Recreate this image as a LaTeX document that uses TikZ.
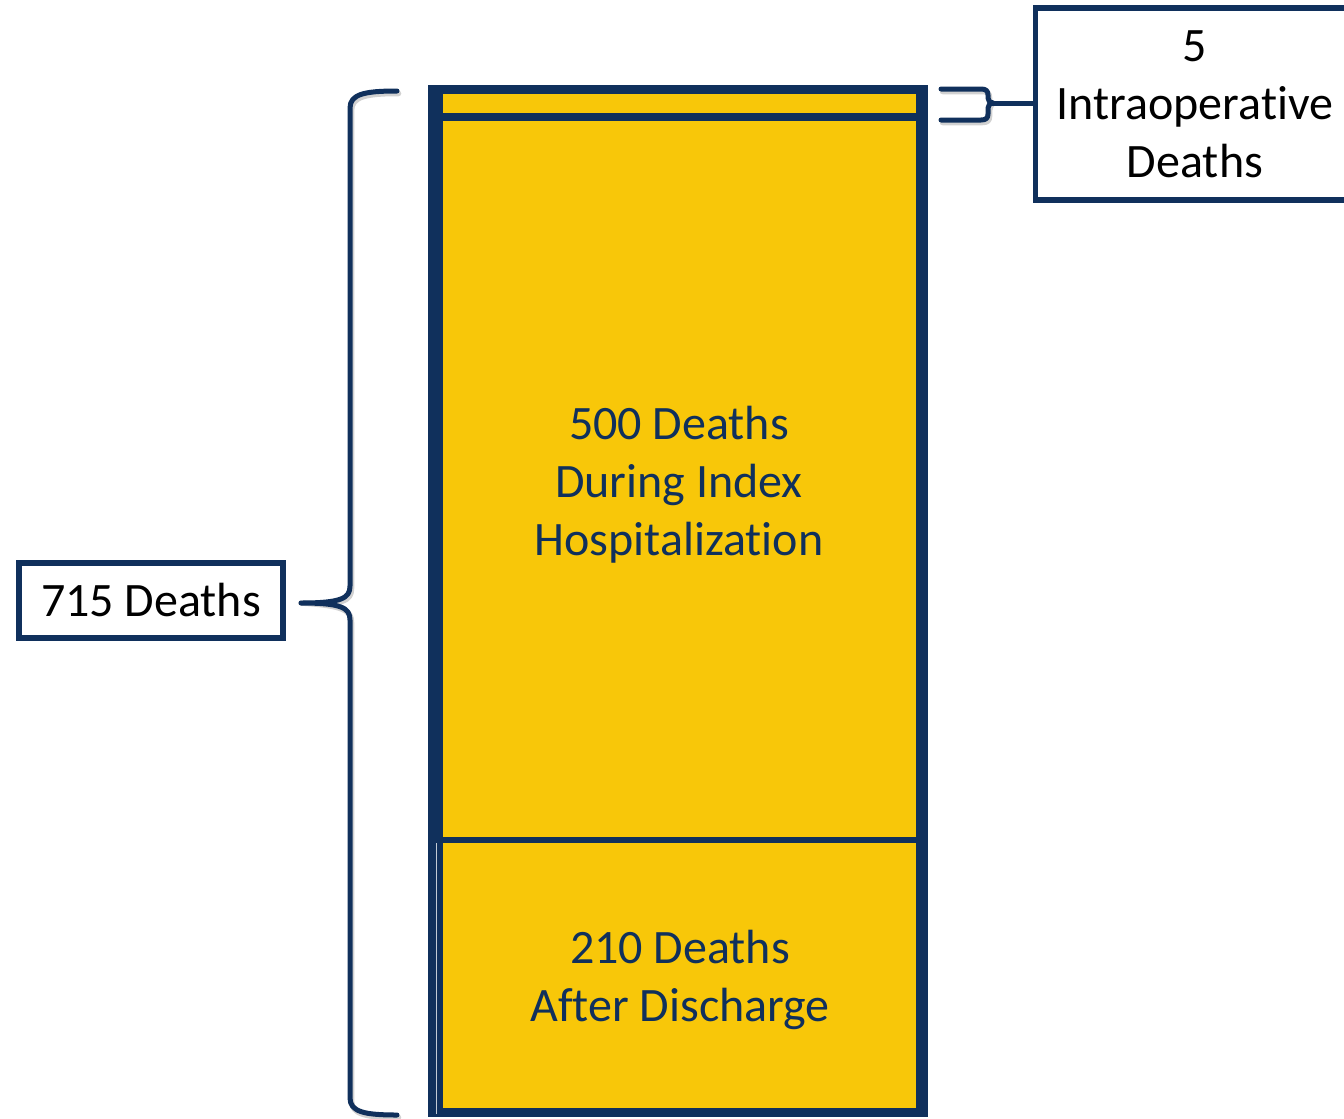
\documentclass[tikz,border=0pt]{standalone}
\usepackage{fontspec}
\setmainfont[Ligatures=NoCommon]{Carlito}
\definecolor{navy}{RGB}{16,48,92}
\definecolor{gold}{RGB}{248,199,9}
\tikzset{
  seg/.style={fill=gold, draw=none, inner sep=0pt, outer sep=0pt, anchor=north west},
  barlabel/.style={text=navy, align=center, inner sep=0pt, font=\fontsize{48}{58}\selectfont},
  box/.style={draw=navy, line width=5.5pt, fill=white, inner sep=0pt, outer sep=0pt,
              align=center, font=\fontsize{48}{58}\selectfont, text=black},
  brace/.style={draw=navy, line width=5pt, line cap=round, line join=round},
  braceshadow/.style={draw=black, opacity=0.18, line width=5.5pt, line cap=round, line join=round}
}
\begin{document}
\begin{tikzpicture}[x=1pt, y=-1pt]
  \useasboundingbox (0,0) rectangle (1344,1119);

  % stacked bar: dark frame with three gold segments
  \node[fill=navy, inner sep=0pt, outer sep=0pt, anchor=north west,
        minimum width=500pt, minimum height=1032pt] (bar) at (428,85) {};
  \node[seg, minimum width=473pt, minimum height=19pt]  (intraop) at (443,94)  {};
  \node[seg, minimum width=473pt, minimum height=716pt] (index)   at (443,121) {};
  \node[seg, minimum width=473pt, minimum height=265pt] (after)   at (443,843) {};
  \draw[white!75!navy, line width=1pt] (436.5,843) -- (436.5,1114);

  \node[barlabel] (indexlbl) at (679,485) {500 Deaths\\During Index\\Hospitalization};
  \node[barlabel] (afterlbl) at (680,980) {210 Deaths\\After Discharge};

  % total label and its brace
  \node[box, minimum width=264pt, minimum height=75pt] (total) at (151,600.5) {715 Deaths};
  \coordinate (ltip) at (301,603);
  \foreach \st/\sh in {braceshadow/{(1.5,2.5)}, brace/{(0,0)}}
    \draw[\st, shift=\sh]
      (397,91) .. controls (365,91) and (350,94) .. (350,108) -- (350,586)
      .. controls (350,598) and (342,603) .. (ltip)
      .. controls (342,603) and (350,608) .. (350,620) -- (350,1098)
      .. controls (350,1112) and (365,1115) .. (397,1115);

  % intraoperative label and its brace
  \node[box, minimum width=319pt, minimum height=192pt] (intra) at (1195,104)
       {5\\Intraoperative\\Deaths};
  \coordinate (rtip) at (993,103);
  \foreach \st/\sh in {braceshadow/{(1.5,2.5)}, brace/{(0,0)}}
    \draw[\st, shift=\sh]
      (941,89) -- (981,89) .. controls (986,89) and (988,91) .. (988,95) -- (988,98)
      .. controls (988,101) and (990,103) .. (rtip)
      .. controls (990,103) and (988,105) .. (988,108) -- (988,114)
      .. controls (988,118) and (986,120) .. (981,120) -- (941,120);
  \draw[brace, line cap=butt] (rtip) -- (rtip -| intra.west);
\end{tikzpicture}
\end{document}
